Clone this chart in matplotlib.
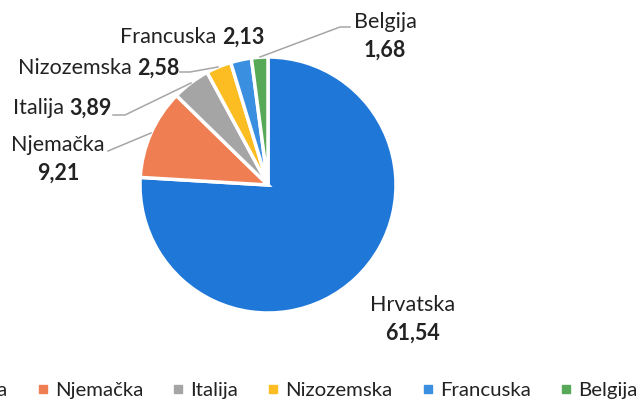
import matplotlib
matplotlib.use("Agg")
import matplotlib.pyplot as plt
from matplotlib.lines import Line2D

# podaci
zemlje = ["Hrvatska", "Njemačka", "Italija", "Nizozemska", "Francuska", "Belgija"]
udjeli = [61.54, 9.21, 3.89, 2.58, 2.13, 1.68]
boje = ["#1f77d8", "#ef7f52", "#a5a5a5", "#fbbd21", "#3a8fe0", "#57a957"]

plt.rcParams['font.family'] = ['Lato', 'DejaVu Sans']

W, H = 643, 401
cx, cy, R = 268, 185, 128  # centar i radijus u pikselima


def px(x, y):
    # pretvori piksele u koordinate podataka (radijus = 1)
    return (x - cx) / R, (cy - y) / R


fig = plt.figure(figsize=(W / 100, H / 100), dpi=100)
ax = fig.add_axes([0, 0, 1, 1])
wedges, _ = ax.pie(udjeli, colors=boje, startangle=90, counterclock=False,
                   wedgeprops=dict(edgecolor="white", linewidth=2.5))
ax.set_xlim(-cx / R, (W - cx) / R)
ax.set_ylim((cy - H) / R, cy / R)
ax.set_aspect("equal")
ax.axis("off")

def fmt(v):
    return f"{v:.2f}".replace(".", ",")

lab_fs = 15.5
line_kw = dict(color="#a6a6a6", lw=1.1)

# Hrvatska
x, y = px(413, 305)
ax.text(x, y, zemlje[0], ha="center", va="center", fontsize=lab_fs, color="#222222")
x, y = px(413, 333)
ax.text(x, y, fmt(udjeli[0]), ha="center", va="center", fontsize=lab_fs,
        fontweight="bold", color="#222222")

# Njemačka
x, y = px(58, 145)
ax.text(x, y, zemlje[1], ha="center", va="center", fontsize=lab_fs, color="#222222")
x, y = px(58, 173)
ax.text(x, y, fmt(udjeli[1]), ha="center", va="center", fontsize=lab_fs,
        fontweight="bold", color="#222222")
ax.plot(*zip(px(108, 151), px(151, 133)), **line_kw)

# Italija, Nizozemska, Francuska - u jednom redu
jedan_red = [(2, 13, 108), (3, 18, 68), (4, 120, 37)]
for i, x0, y0 in jedan_red:
    x, y = px(x0, y0)
    t = ax.text(x, y, zemlje[i] + " ", ha="left", va="center", fontsize=lab_fs,
                color="#222222")
    ax.annotate(fmt(udjeli[i]), xycoords=t, xy=(1, 0.5), va="center", ha="left",
                fontsize=lab_fs, fontweight="bold", color="#222222")

ax.plot(*zip(px(113, 115), px(125, 115), px(191, 83)), **line_kw)
ax.plot(*zip(px(180, 72), px(190, 72), px(218, 67)), **line_kw)

# Belgija
x, y = px(385, 22)
ax.text(x, y, zemlje[5], ha="center", va="center", fontsize=lab_fs, color="#222222")
x, y = px(385, 50)
ax.text(x, y, fmt(udjeli[5]), ha="center", va="center", fontsize=lab_fs,
        fontweight="bold", color="#222222")
ax.plot(*zip(px(260, 57), px(340, 27), px(350, 27)), **line_kw)

# legenda (lijevi dio odrezan kao na izvorniku)
handles = [Line2D([], [], marker="s", ls="", color=c, markersize=5.5) for c in boje]
fig.legend(handles, zemlje, loc="center left", bbox_to_anchor=(-107 / W, 1 - 390 / H),
           ncol=6, frameon=False, fontsize=14.7, handlelength=0.4, handletextpad=0.39,
           columnspacing=1.52, borderpad=0.4, labelcolor="#222222")

fig.savefig("out.png", dpi=100)
